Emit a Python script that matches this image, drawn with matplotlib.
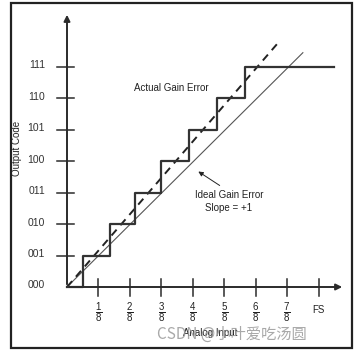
import matplotlib
matplotlib.use("Agg")
import matplotlib.pyplot as plt
from matplotlib.patches import Rectangle

plt.rcParams['font.family'] = ['Liberation Sans', 'DejaVu Sans']
plt.rcParams['mathtext.fontset'] = 'custom'
plt.rcParams['mathtext.rm'] = 'Liberation Sans'
plt.rcParams['mathtext.it'] = 'Liberation Sans'

# ---- data ----
codes = ["000", "001", "010", "011", "100", "101", "110", "111"]
x_tick_labels = [r"$\frac{1}{8}$", r"$\frac{2}{8}$", r"$\frac{3}{8}$", r"$\frac{4}{8}$",
                 r"$\frac{5}{8}$", r"$\frac{6}{8}$", r"$\frac{7}{8}$", "FS"]
# actual transfer: transition points (in units of FS/8) and output code
actual_x = [0, 0.5, 1.37, 2.16, 2.98, 3.87, 4.78, 5.65, 8.5]
actual_y = [0, 1, 2, 3, 4, 5, 6, 7, 7]
# actual gain (dashed) line
gain_x = [0, 6.7]
gain_y = [0, 7.75]
# ideal line, slope = +1
ideal_x = [0, 7.5]
ideal_y = [0, 7.45]

W, H, DPI = 360, 354, 100
ox, oy, s = 67, 287, 31.45   # pixel origin and pixel per unit

fig = plt.figure(figsize=(W / DPI, H / DPI), dpi=DPI)
ax = fig.add_axes([0, 0, 1, 1])
ax.set_xlim(-ox / s, (W - ox) / s)
ax.set_ylim(-(H - oy) / s, oy / s)
ax.axis('off')

dark = '#2b2b2b'
# frame
fig.patches.append(Rectangle((10.5 / W, 6 / H), 341 / W, 345 / H, transform=fig.transFigure,
                             fill=False, edgecolor='#222222', linewidth=1.6))

# axes with arrows
ax.annotate('', xy=(0, (oy - 12) / s), xytext=(0, 0),
            arrowprops=dict(arrowstyle='-|>', color=dark, lw=1.4, mutation_scale=9))
ax.annotate('', xy=((345 - ox) / s, 0), xytext=(0, 0),
            arrowprops=dict(arrowstyle='-|>', color=dark, lw=1.4, mutation_scale=9))

# y ticks and labels
for i, c in enumerate(codes):
    if i > 0:
        ax.plot([-0.32, 0.22], [i, i], color=dark, lw=1.1)
    ax.text(-0.7, i + 0.05, c, ha='right', va='center', fontsize=7.5, color='#333333')

# x ticks and labels
for i, lab in enumerate(x_tick_labels, start=1):
    ax.plot([i, i], [-0.3, 0.26], color=dark, lw=1.1)
    if lab == "FS":
        ax.text(i, -0.72, lab, ha='center', va='center', fontsize=7, color='#222222')
    else:
        ax.text(i, -0.82, lab, ha='center', va='center', fontsize=10, color='#222222')

# ideal line
ax.plot(ideal_x, ideal_y, color='#555555', lw=0.8)
# actual gain line (dashed)
ax.plot(gain_x, gain_y, color='#222222', lw=1.4, dashes=(4, 3))
# staircase
ax.step(actual_x, actual_y, where='post', color='#333333', lw=1.6)

# annotations
ax.text((171 - ox) / s, (oy - 88) / s, "Actual Gain Error", ha='center', va='center',
        fontsize=7, color='#222222')
ax.text((229 - ox) / s, (oy - 195) / s, "Ideal Gain Error", ha='center', va='center',
        fontsize=7, color='#222222')
ax.text((229 - ox) / s, (oy - 208) / s, "Slope = +1", ha='center', va='center',
        fontsize=7, color='#222222')
ax.annotate('', xy=((196 - ox) / s, (oy - 170) / s), xytext=((222 - ox) / s, (oy - 187) / s),
            arrowprops=dict(arrowstyle='-|>', color='#222222', lw=0.7, mutation_scale=7))

ax.text((17 - ox) / s, (oy - 148) / s, "Output Code", rotation=90, ha='center', va='center',
        fontsize=7, color='#222222')
ax.text((210 - ox) / s, (oy - 333) / s, "Analog Input", ha='center', va='center',
        fontsize=7, color='#222222')

# watermark
ax.text((157 - ox) / s, (oy - 334) / s, "CSDN @小叶爱吃汤圆", ha='left', va='center',
        fontsize=11, color='#9a9a9a', alpha=0.85,
        family=['Noto Sans CJK SC', 'DejaVu Sans'])

fig.savefig('out.png', dpi=DPI)
